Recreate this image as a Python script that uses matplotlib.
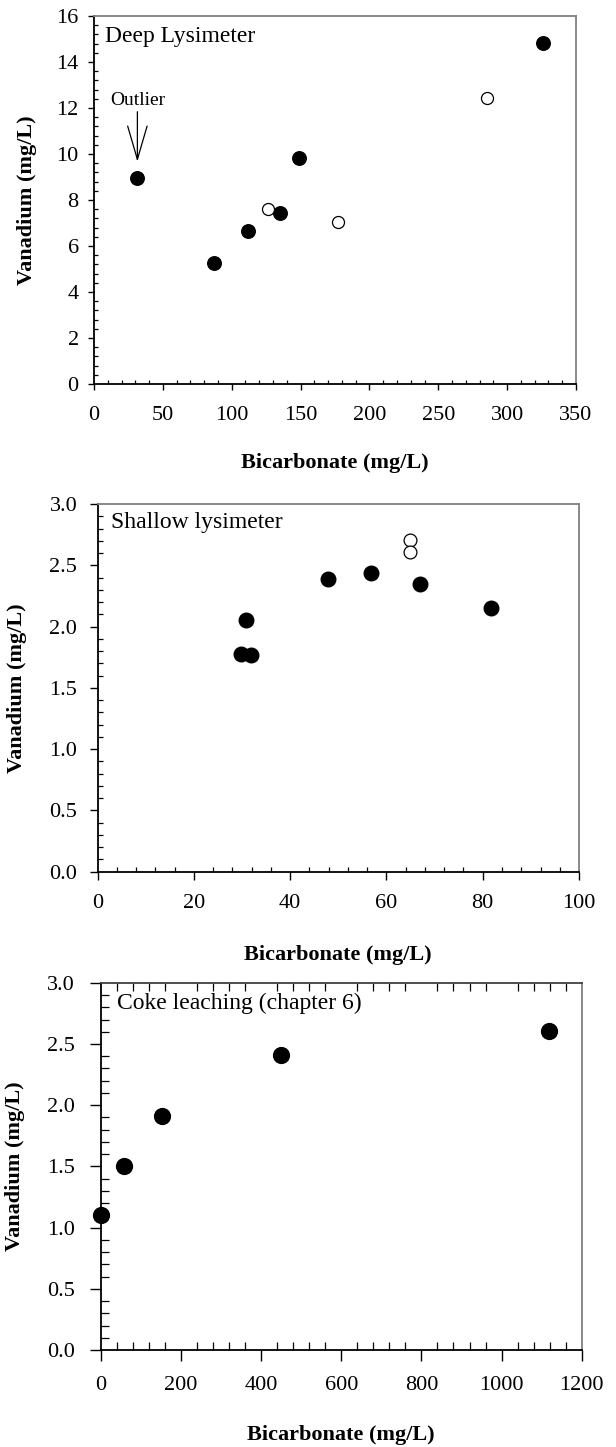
import matplotlib.pyplot as plt
from matplotlib.ticker import MultipleLocator

plt.rcParams['font.family'] = ['Liberation Serif', 'DejaVu Serif']

# Deep lysimeter
deep_x_filled = [31, 87, 112, 135, 149, 326]
deep_y_filled = [8.95, 5.25, 6.65, 7.45, 9.85, 14.85]
deep_x_open = [126, 177, 285]
deep_y_open = [7.62, 7.05, 12.45]

# Shallow lysimeter
shallow_x_filled = [29.7, 31.8, 30.8, 47.8, 56.8, 66.9, 81.8]
shallow_y_filled = [1.78, 1.77, 2.05, 2.39, 2.44, 2.35, 2.15]
shallow_x_open = [64.8, 64.8]
shallow_y_open = [2.71, 2.61]

# Coke leaching (chapter 6)
coke_x = [2, 58, 152, 450, 1118]
coke_y = [1.10, 1.50, 1.91, 2.41, 2.61]

xlabel = 'Bicarbonate (mg/L)'
ylabel = 'Vanadium (mg/L)'

fig = plt.figure(figsize=(6.16, 14.47), dpi=100)


def style_axes(ax, xmaj, xmin, ymaj, ymin, major_len, minor_len, xpad, ypad, top_minor=False):
    ax.xaxis.set_major_locator(MultipleLocator(xmaj))
    ax.xaxis.set_minor_locator(MultipleLocator(xmin))
    ax.yaxis.set_major_locator(MultipleLocator(ymaj))
    ax.yaxis.set_minor_locator(MultipleLocator(ymin))
    ax.tick_params(which='major', direction='out', length=major_len, width=1.0,
                   labelsize=16, top=False, right=False)
    ax.tick_params(which='minor', direction='in', length=minor_len, width=0.9,
                   top=top_minor, right=False)
    ax.tick_params(axis='x', which='major', pad=xpad)
    ax.tick_params(axis='y', which='major', pad=ypad)
    for s in ['left', 'bottom']:
        ax.spines[s].set_color('black')
        ax.spines[s].set_linewidth(1.3)
    for s in ['top', 'right']:
        ax.spines[s].set_color('#808080')
        ax.spines[s].set_linewidth(1.3)


# Panel 1
ax1 = fig.add_axes([0.1526, 0.7346, 0.7825, 0.2543])
ax1.scatter(deep_x_filled, deep_y_filled, s=95, color='black', zorder=3)
ax1.scatter(deep_x_open, deep_y_open, s=75, facecolor='white', edgecolor='black',
            linewidth=0.9, zorder=3)
ax1.set_xlim(0, 350)
ax1.set_ylim(0, 16)
style_axes(ax1, 50, 10, 2, 0.4, 4.5, 3, 11, 6.5)
ax1.text(0.023, 0.930, 'Deep Lysimeter', transform=ax1.transAxes, fontsize=17,
         va='baseline', ha='left')
ax1.annotate('', xy=(31.5, 9.67), xytext=(31.5, 11.84),
             arrowprops=dict(arrowstyle='->,head_length=2.4,head_width=0.7',
                             color='black', lw=0.9, mutation_scale=10,
                             shrinkA=0, shrinkB=0))
ax1.text(31.5, 12.13, 'Outlier', fontsize=14, ha='center', va='baseline')
ax1.set_xlabel(xlabel, fontsize=16, fontweight='bold', va='baseline')
ax1.set_ylabel(ylabel, fontsize=16, fontweight='bold', va='center')
ax1.xaxis.set_label_coords(0.5, -0.229)
ax1.yaxis.set_label_coords(-0.139, 0.5)

# Panel 2
ax2 = fig.add_axes([0.1583, 0.3976, 0.7817, 0.2541])
ax2.scatter(shallow_x_filled, shallow_y_filled, s=110, color='black', zorder=3)
ax2.scatter(shallow_x_open, shallow_y_open, s=85, facecolor='white', edgecolor='black',
            linewidth=0.9, zorder=3)
ax2.set_xlim(0, 100)
ax2.set_ylim(0, 3.0)
style_axes(ax2, 20, 4, 0.5, 0.1, 5.5, 3.5, 10.5, 9)
ax2.yaxis.set_major_formatter(plt.FormatStrFormatter('%.1f'))
ax2.text(0.0274, 0.935, 'Shallow lysimeter', transform=ax2.transAxes, fontsize=17,
         va='baseline', ha='left')
ax2.set_xlabel(xlabel, fontsize=16, fontweight='bold', va='baseline')
ax2.set_ylabel(ylabel, fontsize=16, fontweight='bold', va='center')
ax2.xaxis.set_label_coords(0.5, -0.240)
ax2.yaxis.set_label_coords(-0.167, 0.5)

# Panel 3
ax3 = fig.add_axes([0.1633, 0.0670, 0.7812, 0.2538])
ax3.scatter(coke_x, coke_y, s=130, color='black', zorder=3, clip_on=False)
ax3.set_xlim(0, 1200)
ax3.set_ylim(0, 3.0)
style_axes(ax3, 200, 40, 0.5, 0.1, 8, 6, 11, 10.5, top_minor=True)
ax3.spines['top'].set_color('#404040')
ax3.yaxis.set_major_formatter(plt.FormatStrFormatter('%.1f'))
ax3.text(0.0335, 0.930, 'Coke leaching (chapter 6)', transform=ax3.transAxes,
         fontsize=17, va='baseline', ha='left')
ax3.set_xlabel(xlabel, fontsize=16, fontweight='bold', va='baseline')
ax3.set_ylabel(ylabel, fontsize=16, fontweight='bold', va='center')
ax3.xaxis.set_label_coords(0.5, -0.245)
ax3.yaxis.set_label_coords(-0.178, 0.5)

fig.savefig('out.png', dpi=100)
